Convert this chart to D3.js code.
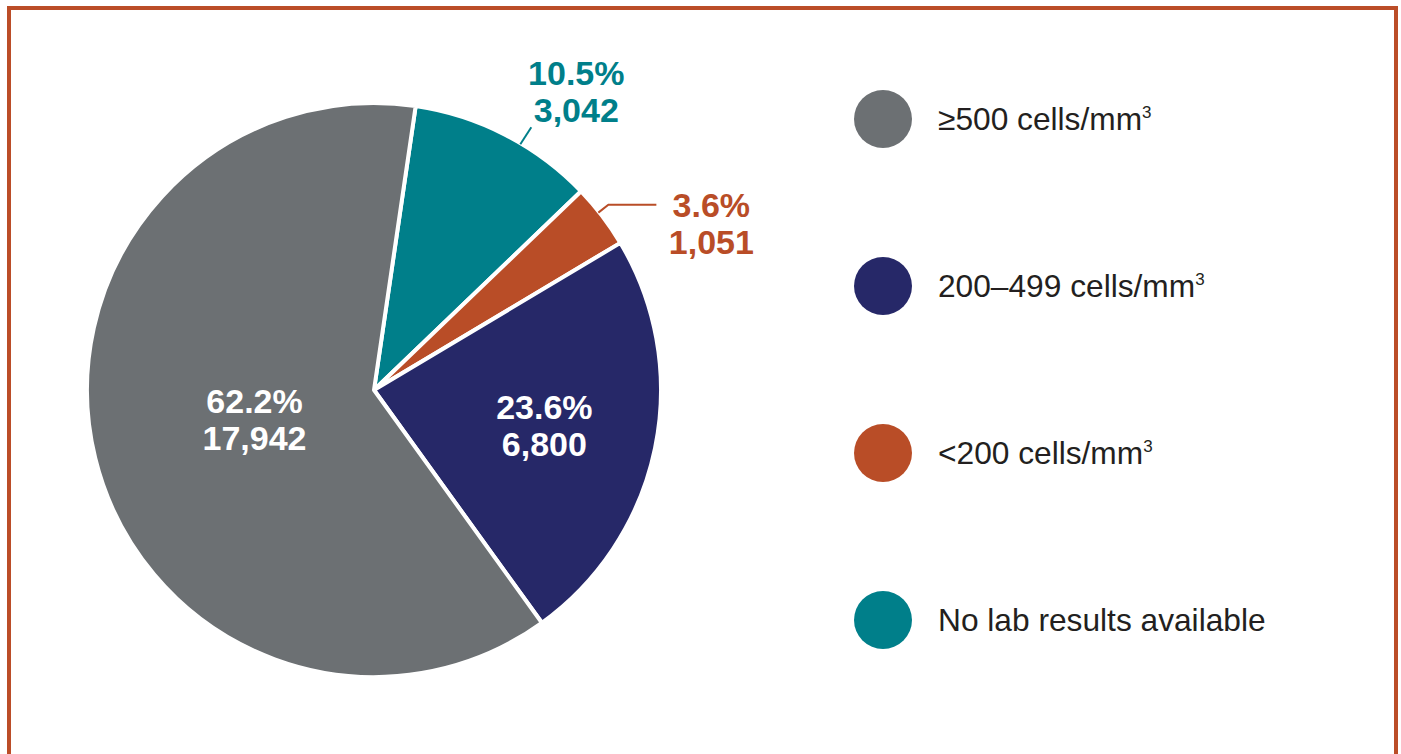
<!DOCTYPE html>
<html>
<head>
<meta charset="utf-8">
<script src="https://cdn.jsdelivr.net/npm/d3@7"></script>
<style>
  html, body { margin: 0; padding: 0; background: #fff; }
  svg { display: block; font-family: "Liberation Sans", Arial, sans-serif; }
</style>
</head>
<body>
<svg width="1401" height="754"></svg>
<script>
// legend order
var categories = ["≥500 cells/mm", "200–499 cells/mm", "<200 cells/mm", "No lab results available"],
    superscripts = ["3", "3", "3", ""],
    percents = [62.2, 23.6, 3.6, 10.5],
    counts = ["17,942", "6,800", "1,051", "3,042"],
    colors = ["#6c7073", "#262868", "#b94d27", "#007f8a"];

// order slices are drawn clockwise from the top
var pieOrder = [3, 2, 1, 0];

var svg = d3.select("svg"),
    cx = 374, cy = 390, radius = 287;

// frame
svg.append("rect")
    .attr("x", 9)
    .attr("y", 8)
    .attr("width", 1387)
    .attr("height", 800)
    .attr("fill", "none")
    .attr("stroke", "#bb4d28")
    .attr("stroke-width", 4);

var pie = d3.pie()
    .sort(null)
    .value(function(i) { return percents[i]; })
    .startAngle(8.35 * Math.PI / 180)
    .endAngle(8.35 * Math.PI / 180 + 2 * Math.PI);

var arc = d3.arc().innerRadius(0).outerRadius(radius);

var arcs = pie(pieOrder);

var g = svg.append("g")
    .attr("transform", "translate(" + cx + "," + cy + ")");

g.selectAll("path.slice")
    .data(arcs)
    .enter().append("path")
    .attr("class", "slice")
    .attr("d", arc)
    .attr("fill", function(d) { return colors[d.data]; })
    .attr("stroke", "#fff")
    .attr("stroke-width", 4)
    .attr("stroke-linejoin", "round");

// inside labels: distance of label centre from pie centre
var insideRadius = { 0: 123, 1: 174 };

function midAngle(d) { return (d.startAngle + d.endAngle) / 2; }

arcs.forEach(function(d) {
    var i = d.data, a = midAngle(d);
    var color = "#fff", tx, ty;
    if (insideRadius[i] !== undefined) {
        tx = Math.sin(a) * insideRadius[i];
        ty = -Math.cos(a) * insideRadius[i];
    } else {
        // leader line from the rim
        color = colors[i];
        var pts, ex, ey;
        if (i === 3) {
            a = a + 3.5 * Math.PI / 180;
            ex = Math.sin(a) * (radius - 1);
            ey = -Math.cos(a) * (radius - 1);
            pts = [[ex, ey], [ex + 11, ey - 17]];
            tx = ex + 56; ty = ey - 53;
        } else {
            a = a - 1 * Math.PI / 180;
            ex = Math.sin(a) * (radius - 1);
            ey = -Math.cos(a) * (radius - 1);
            pts = [[ex, ey], [ex + 10, ey - 8], [ex + 58, ey - 8]];
            tx = ex + 113; ty = ey + 10;
        }
        g.append("path")
            .attr("d", d3.line()(pts))
            .attr("fill", "none")
            .attr("stroke", color)
            .attr("stroke-width", 2);
    }
    var t = g.append("text")
        .attr("text-anchor", "middle")
        .attr("fill", color)
        .attr("font-weight", "bold")
        .attr("font-size", 34);
    t.append("tspan")
        .attr("x", tx)
        .attr("y", ty - 6)
        .text(percents[i].toFixed(1) + "%");
    t.append("tspan")
        .attr("x", tx)
        .attr("y", ty + 31)
        .text(counts[i]);
});

// legend
var legendY = d3.scalePoint()
    .domain(d3.range(categories.length))
    .range([119, 620]);

var legend = svg.selectAll("g.legend")
    .data(d3.range(categories.length))
    .enter().append("g")
    .attr("class", "legend")
    .attr("transform", function(i) { return "translate(883," + legendY(i) + ")"; });

legend.append("circle")
    .attr("r", 29)
    .attr("fill", function(i) { return colors[i]; });

var lt = legend.append("text")
    .attr("x", 55)
    .attr("y", 11)
    .attr("font-size", 31.7)
    .attr("fill", "#231f20");

lt.append("tspan").text(function(i) { return categories[i]; });
lt.append("tspan")
    .attr("font-size", 17)
    .attr("dy", -12)
    .text(function(i) { return superscripts[i]; });
</script>
</body>
</html>
